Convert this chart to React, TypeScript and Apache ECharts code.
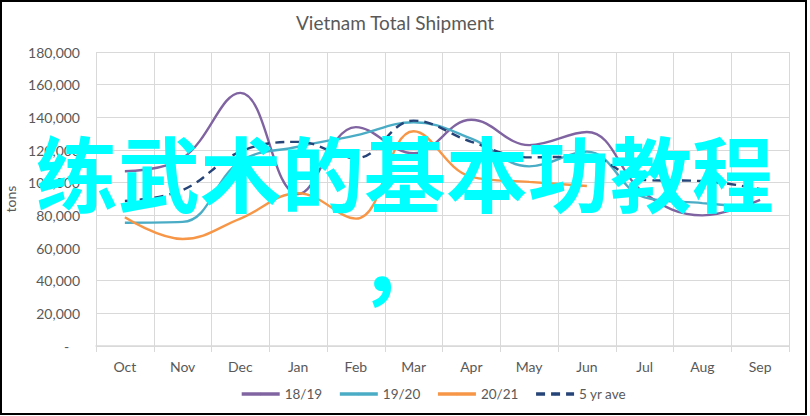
import * as echarts from "echarts";
import { useEffect, useRef } from "react";

const months = ["Oct", "Nov", "Dec", "Jan", "Feb", "Mar", "Apr", "May", "Jun", "Jul", "Aug", "Sep"];
const season1819 = [107000, 115000, 155000, 93000, 134000, 118000, 138500, 123000, 131000, 93500, 80000, 89500];
const season1920 = [75500, 76000, 113000, 122000, 129000, 137000, 127000, 110000, 119000, 91000, 87500, 84500];
const season2021 = [78800, 65500, 78000, 93500, 78000, 131500, 103500, 100500, 98000];
const fiveYearAve = [88800, 95500, 119000, 125000, 115000, 138000, 125000, 115500, 116000, 101600, 101000, 96000];
const overlayLine = "练武术的基本功教程";
const overlayComma = "，";

const font = "Lato, 'Open Sans', sans-serif";
const grey = "#595959";
const gridColor = "#D9D9D9";

function formatTons(value: number) {
  if (value === 0) {
    return "-\u00a0\u00a0\u00a0";
  }
  return value.toLocaleString("en-US");
}

function lineSeries(name: string, data: number[], color: string, dashed = false) {
  return {
    type: "line" as const,
    name,
    data,
    smooth: 0.4,
    symbol: "none",
    showSymbol: false,
    lineStyle: {
      color,
      width: 2.4,
      type: dashed ? ([9, 6] as number[]) : ("solid" as const)
    },
    itemStyle: { color }
  };
}

export default function App() {
  const elementRef = useRef<HTMLDivElement | null>(null);

  useEffect(() => {
    if (!elementRef.current) {
      return;
    }
    const chart = echarts.init(elementRef.current, undefined, { renderer: "svg" });
    chart.setOption({
      animation: false,
      backgroundColor: "#ffffff",
      textStyle: { fontFamily: font },
      title: {
        text: "Vietnam Total Shipment",
        left: 291,
        top: 8,
        textStyle: { fontFamily: font, fontSize: 19, fontWeight: "normal", color: grey }
      },
      legend: {
        bottom: 10,
        left: 235,
        itemWidth: 38,
        itemHeight: 3,
        itemGap: 16,
        lineStyle: { width: 3.4 },
        textStyle: { fontFamily: font, fontSize: 13.5, color: grey },
        data: ["18/19", "19/20", "20/21", "5 yr ave"]
      },
      grid: { left: 96, right: 21, top: 52, bottom: 70, outerBoundsMode: "none" },
      xAxis: {
        type: "category",
        data: months,
        boundaryGap: true,
        axisLine: { lineStyle: { color: gridColor, width: 1.5 } },
        axisTick: { show: true, length: 6, lineStyle: { color: gridColor } },
        splitLine: { show: true, lineStyle: { color: gridColor, width: 1 } },
        axisLabel: { margin: 13, fontSize: 14, color: grey, fontFamily: font }
      },
      yAxis: {
        type: "value",
        min: 0,
        max: 180000,
        interval: 20000,
        name: "tons",
        nameLocation: "middle",
        nameRotate: 90,
        nameGap: 77,
        nameTextStyle: { fontFamily: font, fontSize: 14, color: grey },
        axisLine: { show: false },
        axisTick: { show: false },
        splitLine: { lineStyle: { color: gridColor, width: 1 } },
        axisLabel: { margin: 16, fontSize: 14, color: grey, fontFamily: font, formatter: formatTons }
      },
      series: [
        lineSeries("18/19", season1819, "#8064A2"),
        lineSeries("19/20", season1920, "#4BACC6"),
        lineSeries("20/21", season2021, "#F79646"),
        lineSeries("5 yr ave", fiveYearAve, "#264478", true)
      ],
      graphic: [
        {
          type: "rect",
          z: 50,
          silent: true,
          shape: { x: 1, y: 1, width: 805, height: 413 },
          style: { fill: "none", stroke: "#000000", lineWidth: 2 }
        },
        {
          type: "text",
          z: 100,
          silent: true,
          x: 405,
          y: 129,
          style: {
            text: overlayLine,
            fill: "#00FFFF",
            font: "bold 82px 'Noto Sans CJK SC'",
            align: "center",
            verticalAlign: "top"
          }
        },
        {
          type: "text",
          z: 100,
          silent: true,
          x: 400,
          y: 219,
          style: {
            text: overlayComma,
            fill: "#00FFFF",
            font: "bold 82px 'Noto Sans CJK SC'",
            align: "center",
            verticalAlign: "top"
          }
        }
      ]
    });
    return () => {
      chart.dispose();
    };
  }, []);

  return (
    <div
      ref={elementRef}
      style={{ position: "fixed", left: 0, top: 0, width: 810, height: 416 }}
    />
  );
}
